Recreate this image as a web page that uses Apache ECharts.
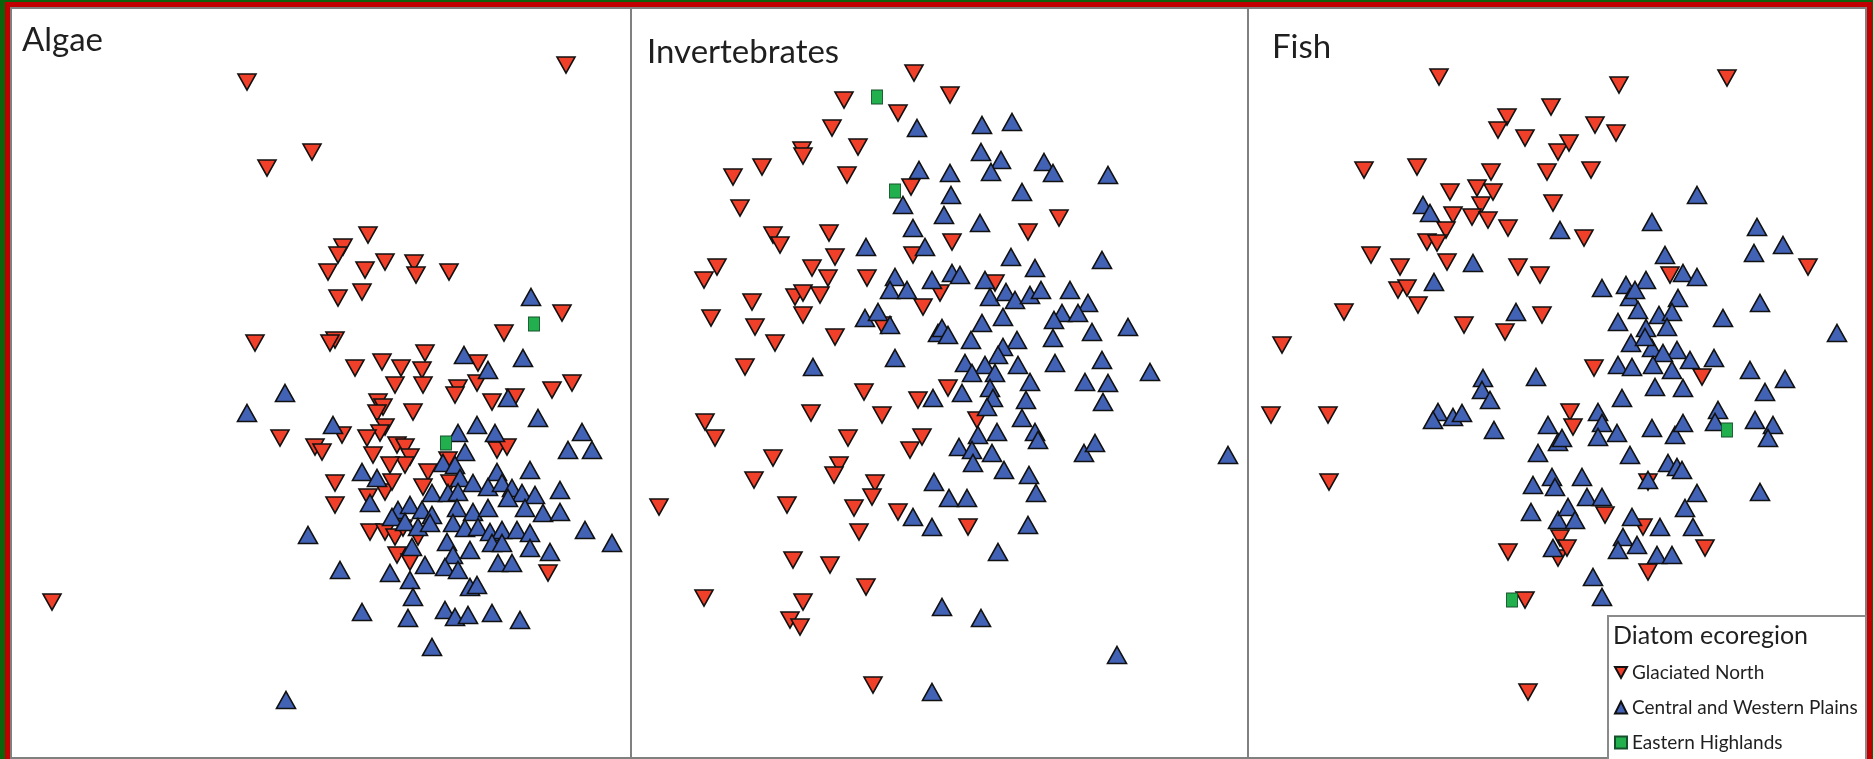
<!DOCTYPE html>
<html>
<head>
<meta charset="utf-8">
<script src="https://cdn.jsdelivr.net/npm/echarts@6/dist/echarts.min.js"></script>
<style>
  html, body { margin: 0; padding: 0; background: #0b630b; }
  #frame { position: absolute; left: 5px; top: 2px; width: 1867px; height: 757px; background: #c00000; }
  #chart { position: absolute; left: 0; top: 0; width: 1873px; height: 759px; }
</style>
</head>
<body>
<div id="frame"></div>
<div id="chart"></div>
<script>
// Panel titles, ecoregion groups and legend heading
const panelTitles = ['Algae', 'Invertebrates', 'Fish'];
const ecoregions = ['Glaciated North', 'Central and Western Plains', 'Eastern Highlands'];
const legendTitle = 'Diatom ecoregion';

// NMDS site scores [axis 1, axis 2] for each assemblage and ecoregion
const algaeGlaciated = [
  [-0.74,3.01],[-0.54,2.15],[-0.09,2.31],[-0.66,0.40],[2.45,3.18],[0.47,1.48],[0.22,1.36],[0.17,1.28],
  [0.07,1.11],[0.44,1.13],[0.64,1.21],[0.93,1.20],[0.95,1.08],[1.28,1.11],[0.17,0.85],[0.41,0.91],
  [2.41,0.70],[1.83,0.50],[0.14,0.43],[0.09,0.40],[0.34,0.15],[0.61,0.21],[0.80,0.15],[1.04,0.30],
  [1.01,0.13],[1.57,0.20],[2.51,0.00],[-0.41,-0.55],[-0.06,-0.64],[-2.69,-2.19],
  [0.74,-0.02],[1.02,-0.02],[1.37,-0.05],[1.56,0.00],[2.31,-0.07],[0.57,-0.19],[0.62,-0.24],[0.56,-0.30],
  [0.92,-0.29],[1.71,-0.19],[1.94,-0.14],[1.34,-0.12],[0.21,-0.52],[0.64,-0.44],[0.59,-0.50],[0.46,-0.55],
  [0.01,-0.69],[0.76,-0.62],[0.84,-0.64],[0.89,-0.74],[0.52,-0.72],[0.84,-0.82],[0.69,-0.82],[0.14,-1.00],
  [0.47,-1.14],[1.07,-0.89],[1.02,-1.04],[1.29,-1.00],[0.64,-1.09],[0.71,-0.99],[0.14,-1.22],[1.76,-0.67],
  [1.86,-0.64],[1.27,-0.77],[0.49,-1.49],[0.64,-1.49],[0.74,-1.54],[0.82,-1.45],[0.97,-1.54],[0.76,-1.72],
  [0.89,-1.79],[2.27,-1.90]
];
const algaeCentral = [
  [-0.36,-0.10],[-0.74,-0.30],[-0.13,-1.52],[-0.35,-3.17],[2.10,0.86],[2.02,0.25],[1.43,0.28],[1.67,0.13],
  [0.12,-0.42],[1.56,-0.42],[1.37,-0.50],[1.74,-0.50],[2.17,-0.35],[1.87,-0.15],[2.61,-0.49],[2.47,-0.67],
  [2.71,-0.67],[1.44,-0.69],[1.22,-0.80],[1.34,-0.82],[0.41,-0.89],[0.56,-0.95],[1.76,-0.89],[2.09,-0.87],
  [1.39,-0.95],[1.52,-1.00],[1.67,-1.04],[1.81,-1.00],[1.91,-1.05],[1.11,-1.10],[1.27,-1.10],[1.37,-1.09],
  [2.01,-1.10],[2.14,-1.12],[2.39,-1.07],[0.49,-1.20],[0.77,-1.27],[0.71,-1.34],[0.89,-1.22],[1.01,-1.27],
  [1.11,-1.32],[1.36,-1.25],[1.52,-1.29],[1.67,-1.25],[1.87,-1.15],[2.04,-1.25],[2.22,-1.30],[2.39,-1.29],
  [0.84,-1.39],[0.97,-1.44],[1.09,-1.40],[1.32,-1.40],[1.44,-1.45],[1.57,-1.44],[1.69,-1.49],[1.81,-1.47],
  [1.96,-1.47],[2.09,-1.50],[2.64,-1.47],[2.91,-1.60],[1.26,-1.59],[1.49,-1.67],[1.71,-1.60],[1.81,-1.60],
  [2.09,-1.65],[2.29,-1.69],[0.91,-1.64],[1.32,-1.72],[1.04,-1.82],[1.24,-1.84],[1.37,-1.87],[1.77,-1.80],
  [1.91,-1.80],[0.19,-1.87],[0.69,-1.90],[0.89,-1.97],[1.49,-2.04],[1.56,-2.02],[0.92,-2.14],[0.41,-2.29],
  [0.87,-2.35],[1.24,-2.27],[1.34,-2.34],[1.47,-2.32],[1.71,-2.30],[1.99,-2.37],[1.11,-2.64]
];
const algaeEastern = [[2.13,0.59],[1.25,-0.60]];

const invertGlaciated = [
  [-0.26,3.10],[-0.96,2.83],[-0.42,2.70],[-1.08,2.55],[-0.82,2.36],[-1.38,2.33],[-1.37,2.27],[-1.78,2.16],
  [-2.07,2.06],[-0.93,2.08],[-0.29,1.96],[-2.00,1.75],[-1.67,1.48],[-1.60,1.38],[-1.11,1.50],[-2.23,1.16],
  [-2.36,1.03],[-1.28,1.15],[-1.05,1.26],[-1.12,1.05],[-1.88,0.81],[-1.45,0.86],[-1.37,0.90],[-1.20,0.88],
  [-1.37,0.68],[-0.73,1.05],[-2.29,0.65],[-1.85,0.56],[-0.58,0.58],[-0.27,1.28],[-0.17,0.76],[-1.65,0.40],
  [-1.05,0.46],[-1.95,0.16],[0.10,2.88],[1.19,1.65],[0.88,1.51],[0.12,1.41],[0.55,1.00],[0.00,0.90],
  [-0.76,-0.09],[-0.22,-0.17],[-1.29,-0.30],[-0.58,-0.32],[-2.35,-0.39],[-2.25,-0.55],[-0.92,-0.55],[-0.18,-0.54],
  [-0.30,-0.67],[-1.67,-0.75],[-1.01,-0.82],[-1.06,-0.92],[-1.86,-0.97],[-0.65,-1.00],[-0.68,-1.14],[-2.81,-1.24],
  [-1.53,-1.22],[-0.86,-1.25],[-0.42,-1.29],[-0.81,-1.49],[-1.47,-1.77],[-1.10,-1.82],[-0.74,-2.04],[-2.36,-2.15],
  [-1.37,-2.19],[-1.50,-2.37],[-1.40,-2.44],[-0.67,-3.02],[0.08,-0.05],[0.37,-0.37],[0.28,-1.44]
];
const invertCentral = [
  [-0.23,2.55],[-0.21,2.13],[-0.37,1.78],[-0.27,1.55],[-0.74,1.36],[-0.15,1.36],[-0.45,1.06],[-0.50,0.93],
  [-0.33,0.93],[-0.08,1.03],[-0.75,0.65],[-0.62,0.71],[-0.50,0.58],[-0.02,0.50],[-0.45,0.25],[-1.27,0.16],
  [0.42,2.58],[0.72,2.61],[0.41,2.31],[0.61,2.23],[0.51,2.11],[1.04,2.21],[1.13,2.10],[1.68,2.08],
  [0.10,2.10],[0.11,1.88],[0.04,1.68],[0.82,1.91],[0.40,1.60],[0.71,1.26],[0.95,1.15],[1.62,1.23],
  [0.12,1.10],[0.20,1.08],[0.45,1.03],[0.50,0.86],[0.66,0.91],[0.75,0.83],[0.90,0.88],[1.01,0.93],
  [1.30,0.93],[1.48,0.80],[1.22,0.70],[1.14,0.63],[1.38,0.70],[0.63,0.66],[0.42,0.60],[0.02,0.55],
  [0.08,0.48],[0.31,0.43],[0.77,0.43],[0.63,0.36],[1.13,0.45],[1.52,0.51],[1.88,0.56],[0.58,0.28],
  [0.25,0.20],[0.45,0.18],[0.78,0.18],[1.15,0.20],[1.62,0.23],[2.10,0.11],[0.32,0.10],[0.55,0.10],
  [0.90,0.01],[1.45,0.01],[1.68,0.00],[-0.07,-0.15],[-0.06,-0.99],[-0.27,-1.34],[-0.08,-1.44],[0.02,-2.24],
  [-0.08,-3.09],[0.22,-0.10],[0.50,-0.05],[0.53,-0.15],[0.86,-0.17],[1.63,-0.19],[0.47,-0.24],[0.38,-0.52],
  [0.57,-0.49],[0.82,-0.35],[0.95,-0.49],[0.98,-0.57],[0.19,-0.64],[0.32,-0.67],[0.33,-0.80],[0.52,-0.70],
  [0.64,-0.87],[0.89,-0.92],[0.96,-1.10],[1.44,-0.70],[1.55,-0.60],[2.88,-0.72],[0.09,-1.15],[0.27,-1.15],
  [0.88,-1.42],[0.58,-1.69],[0.41,-2.35],[1.77,-2.72]
];
const invertEastern = [[-0.63,2.86],[-0.45,1.92]];

const fishGlaciated = [
  [-1.18,3.06],[-0.50,2.66],[-0.59,2.53],[-0.32,2.45],[-0.06,2.76],[0.01,2.31],[-1.93,2.13],[-1.40,2.16],
  [-0.66,2.11],[-0.10,2.11],[-1.07,1.91],[-0.80,1.95],[-0.64,1.91],[-0.76,1.78],[-0.04,1.80],[-1.04,1.68],
  [-0.85,1.66],[-0.69,1.63],[-0.49,1.55],[-1.11,1.53],[-1.30,1.41],[-1.20,1.40],[-1.10,1.21],[-1.86,1.28],
  [-1.57,1.16],[-1.59,0.93],[-1.50,0.95],[-1.39,0.78],[-0.39,1.16],[-0.17,1.08],[-2.13,0.71],[-0.93,0.58],
  [-0.52,0.51],[-0.15,0.68],[-2.75,0.38],[0.62,2.98],[1.70,3.05],[0.38,2.58],[0.59,2.50],[0.12,2.40],
  [0.34,2.13],[0.27,1.45],[1.13,1.08],[2.51,1.16],[0.37,0.15],[1.45,0.06],[-2.86,-0.32],[-2.29,-0.32],
  [-2.28,-0.99],[-0.49,-1.69],[-0.32,-2.17],[-0.29,-3.09],[0.01,-1.75],[0.13,-0.29],[0.16,-0.44],[0.91,-0.99],
  [0.48,-1.32],[0.86,-1.44],[1.48,-1.65],[0.91,-1.89],[0.03,-1.55],[0.10,-1.65]
];
const fishCentral = [
  [-1.34,1.78],[-1.27,1.70],[-0.84,1.20],[-1.23,1.01],[-0.41,0.71],[0.03,1.53],[-0.21,0.06],[-0.74,0.05],
  [0.95,1.61],[1.40,1.88],[2.00,1.56],[2.26,1.38],[1.97,1.30],[1.08,1.28],[1.26,1.10],[1.40,1.06],
  [0.45,0.95],[0.69,0.98],[0.89,1.03],[0.73,0.86],[0.78,0.93],[1.21,0.85],[0.81,0.73],[1.02,0.68],
  [1.15,0.71],[2.03,0.80],[0.61,0.61],[0.89,0.55],[1.10,0.56],[1.66,0.65],[2.80,0.50],[0.74,0.40],
  [0.95,0.35],[1.20,0.33],[1.06,0.30],[0.88,0.46],[1.57,0.25],[1.33,0.23],[0.61,0.18],[0.75,0.16],
  [0.96,0.18],[1.15,0.13],[1.93,0.13],[2.28,0.04],[-1.19,-0.29],[-1.24,-0.37],[-1.04,-0.34],[-0.95,-0.30],
  [-0.75,-0.07],[-0.67,-0.17],[-0.63,-0.47],[-0.09,-0.42],[0.01,-0.59],[-0.19,-0.70],[-0.24,-1.02],[-0.05,-0.94],
  [-0.02,-1.04],[-0.26,-1.29],[0.01,-1.37],[-0.04,-1.65],[0.65,-0.15],[0.98,-0.04],[1.26,-0.05],[2.08,-0.09],
  [0.41,-0.29],[0.45,-0.40],[0.41,-0.54],[0.60,-0.50],[0.95,-0.45],[1.18,-0.52],[1.26,-0.40],[1.61,-0.27],
  [1.58,-0.39],[1.98,-0.37],[2.16,-0.42],[2.11,-0.55],[0.05,-0.55],[0.73,-0.72],[1.11,-0.80],[1.20,-0.84],
  [1.25,-0.87],[0.25,-0.94],[0.30,-1.14],[0.45,-1.14],[1.40,-1.10],[2.03,-1.09],[0.11,-1.24],[0.18,-1.37],
  [1.28,-1.25],[0.75,-1.34],[1.03,-1.44],[1.36,-1.44],[0.66,-1.54],[0.80,-1.62],[0.61,-1.67],[1.00,-1.72],
  [1.15,-1.72],[0.36,-1.94],[0.45,-2.14],[0.91,-0.97]
];
const fishEastern = [[-0.45,-2.17],[1.70,-0.47]];

const panelData = [
  [algaeGlaciated, algaeCentral, algaeEastern],
  [invertGlaciated, invertCentral, invertEastern],
  [fishGlaciated, fishCentral, fishEastern]
];

// Panel rectangles and score ranges
const panelBoxes = [
  { left: 11, width: 620, xMin: -3.10, xMax: 3.10 },
  { left: 631, width: 617, xMin: -3.09, xMax: 3.08 },
  { left: 1248, width: 618, xMin: -3.09, xMax: 3.09 }
];
const titlePos = [[22, 24], [647, 36], [1272, 31]];

const downTri = 'path://M0,0L20,0L10,18Z';
const markerStyles = [
  { symbol: downTri, symbolSize: [18, 16], color: '#f0402a' },
  { symbol: 'triangle', symbolSize: [19, 17], color: '#4262b6' },
  { symbol: 'rect', symbolSize: [11, 14], color: '#22b04e' }
];

const grids = panelBoxes.map(p => ({
  left: p.left, top: 8, width: p.width, height: 750,
  show: true, backgroundColor: '#ffffff', borderColor: '#808080', borderWidth: 2
}));
const xAxes = panelBoxes.map((p, i) => ({
  type: 'value', gridIndex: i, min: p.xMin, max: p.xMax, show: false
}));
const yAxes = panelBoxes.map((p, i) => ({
  type: 'value', gridIndex: i, min: -3.75, max: 3.75, show: false
}));

const series = [];
panelData.forEach((groups, gi) => {
  groups.forEach((pts, k) => {
    const m = markerStyles[k];
    series.push({
      type: 'scatter', name: ecoregions[k], xAxisIndex: gi, yAxisIndex: gi,
      data: pts, symbol: m.symbol, symbolSize: m.symbolSize, z: 2 + k,
      itemStyle: { color: m.color, borderColor: k === 2 ? '#14502a' : '#111111', borderWidth: k === 2 ? 1 : 1.6, opacity: 1 },
      emphasis: { disabled: true }
    });
  });
});

const chart = echarts.init(document.getElementById('chart'), null, { renderer: 'canvas' });
chart.setOption({
  animation: false,
  grid: grids,
  xAxis: xAxes,
  yAxis: yAxes,
  title: panelTitles.map((t, i) => ({
    text: t, left: titlePos[i][0], top: titlePos[i][1], padding: 0,
    textStyle: { fontFamily: 'Lato', fontSize: 33, fontWeight: 'normal', color: '#1f1f1f' }
  })),
  graphic: [
    { type: 'rect', z: 50, shape: { x: 1608, y: 616, width: 258, height: 145 },
      style: { fill: '#ffffff', stroke: '#8a8a8a', lineWidth: 2 } },
    { type: 'text', z: 51, x: 1613, y: 623,
      style: { text: legendTitle, font: '25px Lato', fill: '#1f1f1f', verticalAlign: 'top' } }
  ],
  legend: {
    z: 60, orient: 'vertical', left: 1614, top: 662, itemGap: 14, itemWidth: 12, itemHeight: 12,
    padding: 0, selectedMode: false,
    data: [
      { name: ecoregions[0], icon: downTri },
      { name: ecoregions[1], icon: 'triangle' },
      { name: ecoregions[2], icon: 'rect' }
    ],
    textStyle: { fontFamily: 'Lato', fontSize: 19, color: '#1f1f1f', lineHeight: 21 }
  },
  series: series
});
</script>
</body>
</html>
